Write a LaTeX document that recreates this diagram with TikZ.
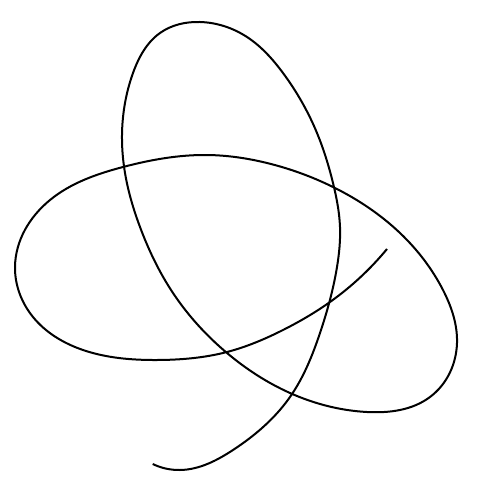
\documentclass[tikz,border=0pt]{standalone}
\usetikzlibrary{hobby}
\begin{document}
\begin{tikzpicture}[x=1pt,y=-1pt,knot/.style={line width=2pt,black}]
\useasboundingbox (0,0) rectangle (500,500);
\coordinate (s) at (152.7,464);
\coordinate (e) at (387,249);
\draw[knot] (s) to[curve through={(180,470) (233,450) (290,397) (320,333) (337,267) (340,227)
(333,183) (317,133) (283,73) (247,37) (200,22) (160,33) (133,73) (122,140)
(125,173) (140,227) (173,293) (227,353) (290,393) (367,412) (430,397)
(457,343) (443,290) (400,233) (333,187) (267,163) (207,155) (123,167)
(50,200) (15,267) (33,317) (83,350) (157,360) (227,352) (283,330) (330,302)}] (e);
\end{tikzpicture}
\end{document}
